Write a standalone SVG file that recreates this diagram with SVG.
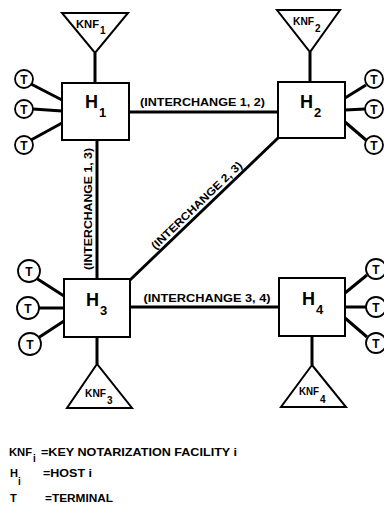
<svg xmlns="http://www.w3.org/2000/svg" width="384" height="506" viewBox="0 0 384 506">
<style>
  .box{fill:#fff;stroke:#000;stroke-width:2}
  .tri{fill:#fff;stroke:#000;stroke-width:2;stroke-linejoin:miter}
  .term{fill:#fff;stroke:#000;stroke-width:1.8}
  .ln{stroke:#000;stroke-width:3;fill:none}
  text{font-family:"Liberation Sans","Arial",sans-serif;font-weight:bold;fill:#000}
  .lbl{font-size:11px}
  .h{font-size:18px}
  .hs{font-size:13px}
  .k{font-size:11px}
  .ks{font-size:10px}
  .t{font-size:12px;text-anchor:middle}
  .leg{font-size:11px}
</style>
<g id="connectors">
  <line class="ln" x1="129" y1="112" x2="278" y2="112"/>
  <line class="ln" x1="97" y1="140" x2="97" y2="279"/>
  <line class="ln" x1="278" y1="138" x2="130" y2="280"/>
  <line class="ln" x1="130" y1="307" x2="279" y2="307"/>
  <line class="ln" x1="95" y1="53" x2="95" y2="83"/>
  <line class="ln" x1="310" y1="52" x2="310" y2="82"/>
  <line class="ln" x1="97" y1="337" x2="97" y2="364"/>
  <line class="ln" x1="312" y1="336" x2="312" y2="365"/>
  <line class="ln" x1="31" y1="84" x2="62" y2="100"/>
  <line class="ln" x1="33" y1="109" x2="62" y2="111"/>
  <line class="ln" x1="31" y1="140" x2="62" y2="123"/>
  <line class="ln" x1="345" y1="98" x2="366" y2="85"/>
  <line class="ln" x1="345" y1="110" x2="365" y2="109"/>
  <line class="ln" x1="345" y1="122" x2="366" y2="140"/>
  <line class="ln" x1="36" y1="278" x2="64" y2="296"/>
  <line class="ln" x1="38" y1="308" x2="64" y2="308"/>
  <line class="ln" x1="38" y1="338" x2="64" y2="321"/>
  <line class="ln" x1="345" y1="293" x2="367" y2="275"/>
  <line class="ln" x1="345" y1="307" x2="366" y2="307"/>
  <line class="ln" x1="345" y1="318" x2="367" y2="337"/>
  <text class="lbl" x="202.5" y="106" text-anchor="middle" textLength="125" lengthAdjust="spacingAndGlyphs">(INTERCHANGE 1, 2)</text>
  <text class="lbl" x="207" y="302" text-anchor="middle" textLength="127" lengthAdjust="spacingAndGlyphs">(INTERCHANGE 3, 4)</text>
  <text class="lbl" transform="translate(97,209) rotate(-90)" x="0" y="-5" text-anchor="middle" textLength="122" lengthAdjust="spacingAndGlyphs">(INTERCHANGE 1, 3)</text>
  <text class="lbl" transform="translate(202,211) rotate(-43.8)" x="0" y="-4" text-anchor="middle" textLength="121" lengthAdjust="spacingAndGlyphs">(INTERCHANGE 2, 3)</text>
</g>
<g id="H1">
  <rect class="box" x="62" y="83" width="67" height="57"/>
  <text class="h" x="85" y="108">H</text><text class="hs" x="99" y="117">1</text>
</g>
<g id="H2">
  <rect class="box" x="278" y="82" width="67" height="56"/>
  <text class="h" x="300" y="108">H</text><text class="hs" x="314" y="117">2</text>
</g>
<g id="H3">
  <rect class="box" x="64" y="279" width="66" height="58"/>
  <text class="h" x="86" y="306">H</text><text class="hs" x="100" y="315">3</text>
</g>
<g id="H4">
  <rect class="box" x="279" y="278" width="66" height="58"/>
  <text class="h" x="302" y="305">H</text><text class="hs" x="316" y="314">4</text>
</g>
<g id="KNF1">
  <polygon class="tri" points="62,13 128,13 95,53"/>
  <text class="k" x="76" y="28" textLength="23" lengthAdjust="spacingAndGlyphs">KNF</text><text class="ks" x="100" y="34">1</text>
</g>
<g id="KNF2">
  <polygon class="tri" points="277,10 340,10 310,52"/>
  <text class="k" x="293" y="25" textLength="21" lengthAdjust="spacingAndGlyphs">KNF</text><text class="ks" x="315" y="32">2</text>
</g>
<g id="KNF3">
  <polygon class="tri" points="97,364 67,408 132,408"/>
  <text class="k" x="85" y="397" textLength="21" lengthAdjust="spacingAndGlyphs">KNF</text><text class="ks" x="107" y="404">3</text>
</g>
<g id="KNF4">
  <polygon class="tri" points="312,365 281,407 346,407"/>
  <text class="k" x="299" y="395" textLength="20" lengthAdjust="spacingAndGlyphs">KNF</text><text class="ks" x="320" y="403">4</text>
</g>
<g id="T1a"><circle class="term" cx="24" cy="79" r="9"/><text class="t" x="24" y="83.5">T</text></g>
<g id="T1b"><circle class="term" cx="24" cy="109" r="9"/><text class="t" x="24" y="113.5">T</text></g>
<g id="T1c"><circle class="term" cx="24" cy="145" r="9"/><text class="t" x="24" y="149.5">T</text></g>
<g id="T2a"><circle class="term" cx="374" cy="79" r="9"/><text class="t" x="374" y="83.5">T</text></g>
<g id="T2b"><circle class="term" cx="374" cy="109" r="9"/><text class="t" x="374" y="113.5">T</text></g>
<g id="T2c"><circle class="term" cx="374" cy="145" r="9"/><text class="t" x="374" y="149.5">T</text></g>
<g id="T3a"><circle class="term" cx="29" cy="271" r="11"/><text class="t" x="29" y="276">T</text></g>
<g id="T3b"><circle class="term" cx="28" cy="308" r="11"/><text class="t" x="28" y="313">T</text></g>
<g id="T3c"><circle class="term" cx="30" cy="344" r="11"/><text class="t" x="30" y="349">T</text></g>
<g id="T4a"><circle class="term" cx="376" cy="269" r="10"/><text class="t" x="376" y="273.5">T</text></g>
<g id="T4b"><circle class="term" cx="376" cy="307" r="10"/><text class="t" x="376" y="311.5">T</text></g>
<g id="T4c"><circle class="term" cx="376" cy="343" r="10"/><text class="t" x="376" y="347.5">T</text></g>
<g id="legend">
  <text class="leg" x="9" y="456" textLength="23" lengthAdjust="spacingAndGlyphs">KNF</text><text class="ks" x="33" y="462">i</text>
  <text class="leg" x="41" y="456" textLength="196" lengthAdjust="spacingAndGlyphs">=KEY NOTARIZATION FACILITY i</text>
  <text class="leg" x="10" y="477">H</text><text class="ks" x="18" y="485">i</text>
  <text class="leg" x="43" y="477" textLength="49" lengthAdjust="spacingAndGlyphs">=HOST i</text>
  <text class="leg" x="10" y="502">T</text>
  <text class="leg" x="45" y="502" textLength="68" lengthAdjust="spacingAndGlyphs">=TERMINAL</text>
</g>
</svg>
